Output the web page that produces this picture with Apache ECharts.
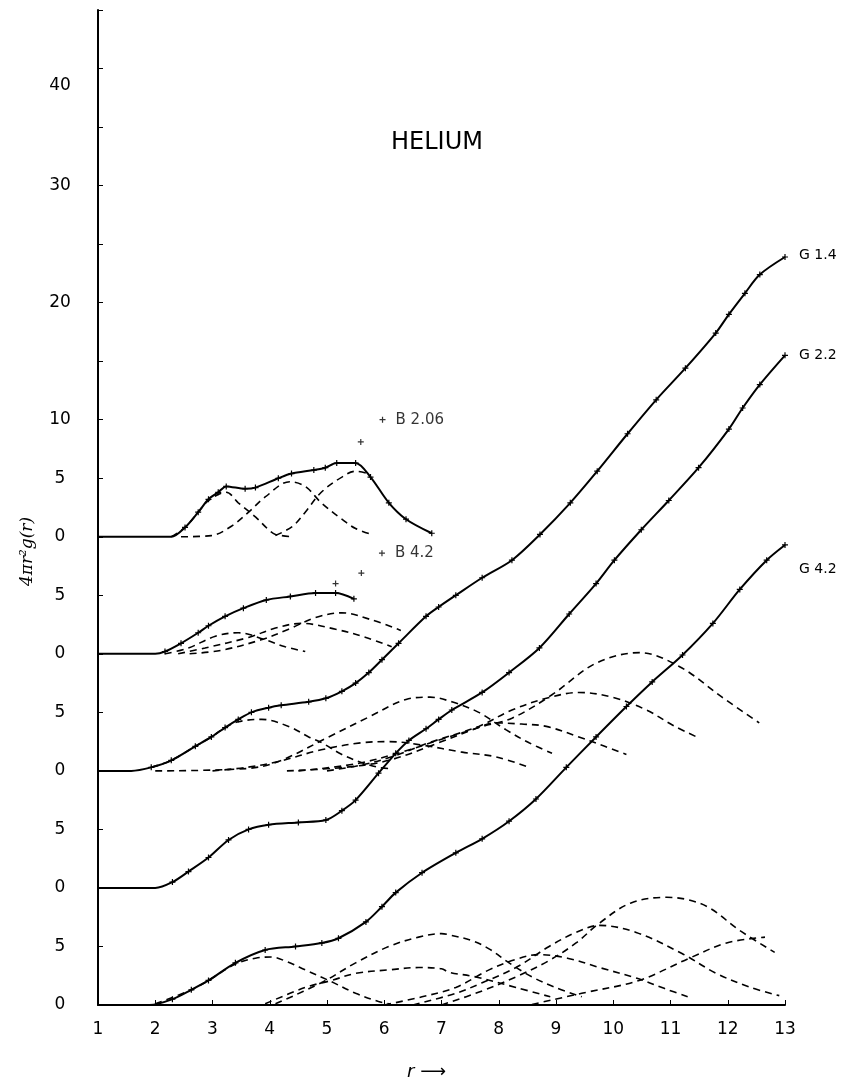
<!DOCTYPE html>
<html>
<head>
<meta charset="utf-8">
<script src="https://cdn.jsdelivr.net/npm/echarts@6/dist/echarts.min.js"></script>
<style>
  html, body { margin: 0; padding: 0; background: #fff; }
  #chart { width: 857px; height: 1088px; }
</style>
</head>
<body>
<div id="chart"></div>
<script>
// curves are stacked: B2.06 sits on 40, B4.2 on 30, G1.4 on 20, G2.2 on 10, G4.2 on 0
var yTickLabels = {0: '0', 5: '5', 10: '0', 15: '5', 20: '0', 25: '5', 30: '0', 35: '5',
    40: '0', 45: '5', 50: '10', 60: '20', 70: '30', 80: '{low|40}'};

// measured curves [r, value]
var solidB206 = [[1, 40], [2.28, 40], [2.52, 40.8], [2.75, 42.1], [2.93, 43.2], [3.1, 43.8], [3.24, 44.3],
    [3.57, 44.1], [3.75, 44.2], [4.15, 45.0], [4.38, 45.4], [4.77, 45.7], [4.97, 45.9], [5.17, 46.3],
    [5.5, 46.3], [5.76, 45.1], [6.08, 42.9], [6.38, 41.5], [6.83, 40.3]];
var solidB42 = [[1, 30], [2.0, 30], [2.17, 30.2], [2.45, 30.9], [2.75, 31.8], [2.93, 32.4], [3.22, 33.2],
    [3.54, 33.9], [3.94, 34.6], [4.36, 34.9], [4.8, 35.2], [5.15, 35.2], [5.47, 34.7]];
var solidG14 = [[1, 20], [1.58, 20], [1.93, 20.3], [2.28, 20.9], [2.7, 22.1], [2.98, 22.9], [3.22, 23.7],
    [3.45, 24.4], [3.68, 25.0], [3.98, 25.4], [4.2, 25.6], [4.68, 25.9], [4.98, 26.2], [5.26, 26.8],
    [5.5, 27.5], [5.73, 28.4], [5.96, 29.5], [6.25, 30.9], [6.73, 33.2], [6.95, 34.0], [7.25, 35.0],
    [7.71, 36.5], [8.23, 38.0], [8.72, 40.2], [9.25, 42.9], [9.72, 45.6], [10.25, 48.8], [10.75, 51.7],
    [11.26, 54.4], [11.79, 57.4], [12.02, 59.0], [12.3, 60.8], [12.56, 62.4], [13.0, 63.9]];
var solidG22 = [[1, 10], [2.0, 10], [2.3, 10.5], [2.58, 11.4], [2.93, 12.6], [3.28, 14.1], [3.63, 15.0],
    [3.98, 15.4], [4.5, 15.6], [4.98, 15.8], [5.26, 16.6], [5.5, 17.5], [5.9, 19.8], [6.2, 21.5],
    [6.43, 22.6], [6.73, 23.6], [6.95, 24.4], [7.18, 25.2], [7.71, 26.7], [8.18, 28.4], [8.71, 30.5],
    [9.23, 33.4], [9.7, 36.0], [10.02, 38.0], [10.49, 40.6], [10.97, 43.1], [11.49, 45.9], [12.02, 49.2],
    [12.26, 51.0], [12.56, 53.0], [13.0, 55.5]];
var solidG42 = [[1, 0], [1.9, 0], [2.3, 0.5], [2.63, 1.3], [2.93, 2.1], [3.4, 3.6], [3.92, 4.7], [4.45, 5.0],
    [4.91, 5.3], [5.2, 5.7], [5.68, 7.1], [5.96, 8.4], [6.2, 9.6], [6.66, 11.3], [7.25, 13.0], [7.71, 14.2],
    [8.18, 15.7], [8.65, 17.6], [9.18, 20.3], [9.7, 22.9], [10.23, 25.5], [10.68, 27.6], [11.21, 29.9],
    [11.74, 32.6], [12.21, 35.5], [12.68, 38.0], [13.0, 39.3]];

// isolated measured points
var dotsB206 = [[5.59, 48.1], [5.97, 50.0]];
var dotsB42 = [[5.15, 36.0], [5.6, 36.9], [5.96, 38.6]];

// dashed component peaks
var partsB206 = [
    [[2.28, 40], [2.52, 40.8], [2.75, 42.1], [2.93, 43.1], [3.24, 43.8], [3.45, 42.9], [3.75, 41.7], [3.98, 40.6], [4.1, 40.2], [4.42, 40.0]],
    [[2.45, 40], [2.98, 40.1], [3.33, 40.9], [3.63, 42.1], [3.92, 43.4], [4.35, 44.7], [4.62, 44.3], [4.9, 42.9], [5.26, 41.5], [5.5, 40.7], [5.78, 40.2]],
    [[4.1, 40.1], [4.4, 40.9], [4.62, 42.1], [4.9, 43.8], [5.26, 45.1], [5.5, 45.6], [5.72, 45.4]]
];
var partsB42 = [
    [[2.17, 30], [2.58, 30.5], [3.05, 31.5], [3.45, 31.8], [3.92, 31.2], [4.27, 30.6], [4.62, 30.2]],
    [[2.4, 30], [2.87, 30.5], [3.63, 31.4], [4.1, 32.2], [4.55, 32.6], [5.15, 32.1], [5.68, 31.4], [6.13, 30.6]],
    [[2.6, 30], [3.15, 30.3], [3.85, 31.2], [4.33, 32.1], [4.8, 33.1], [5.26, 33.5], [5.78, 32.9], [6.29, 32.0]]
];
var partsG14 = [
    [[1.93, 20.3], [2.28, 20.9], [2.7, 22.1], [2.98, 22.9], [3.22, 23.7], [3.45, 24.2], [3.86, 24.4], [4.33, 23.8], [4.68, 22.9], [4.91, 22.4], [5.26, 21.4], [5.61, 20.7], [5.9, 20.3], [6.1, 20.2]],
    [[2.0, 20], [3.6, 20.2], [4.15, 20.8], [5.03, 22.9], [5.73, 24.6], [6.38, 26.1], [6.8, 26.3], [7.18, 25.9], [7.65, 25.0], [8.13, 23.5], [8.53, 22.4], [8.93, 21.5]],
    [[3.0, 20], [3.6, 20.3], [4.15, 20.8], [4.9, 21.8], [5.6, 22.4], [6.08, 22.5], [6.66, 22.2], [7.36, 21.6], [7.95, 21.2], [8.53, 20.3]],
    [[4.5, 20], [5.5, 20.6], [6.3, 21.6], [7.0, 22.7], [7.53, 23.5], [7.95, 24.1], [8.4, 24.0], [8.83, 23.8], [9.4, 22.9], [9.85, 22.1], [10.23, 21.4]],
    [[5.0, 20], [5.6, 20.5], [6.13, 21.2], [6.78, 22.4], [7.65, 23.8], [8.23, 25.2], [8.83, 26.2], [9.4, 26.7], [9.98, 26.3], [10.58, 25.2], [11.04, 23.9], [11.5, 22.8]],
    [[4.3, 20], [5.3, 20.3], [6.08, 20.9], [6.95, 22.4], [7.65, 23.7], [8.23, 24.5], [8.93, 26.5], [9.7, 29.2], [10.46, 30.1], [11.16, 28.9], [11.9, 26.3], [12.55, 24.1]]
];
var partsG42 = [
    [[2.0, 0.1], [2.63, 1.3], [2.93, 2.1], [3.4, 3.5], [3.75, 4.0], [4.03, 4.1], [4.3, 3.7], [4.62, 3.0], [5.03, 2.1], [5.5, 1.0], [5.9, 0.3], [6.1, 0.1]],
    [[3.92, 0.1], [4.62, 1.5], [5.08, 2.1], [5.5, 2.7], [6.08, 3.0], [6.6, 3.2], [7.0, 3.1], [7.13, 2.8], [7.6, 2.4], [8.3, 1.5], [8.9, 0.7]],
    [[4.1, 0.1], [4.9, 1.9], [5.5, 3.6], [6.08, 5.0], [6.6, 5.8], [7.0, 6.1], [7.13, 6.0], [7.53, 5.5], [7.83, 4.8], [8.18, 3.6], [8.58, 2.4], [8.99, 1.5], [9.45, 0.7]],
    [[6.0, 0], [6.66, 0.7], [7.25, 1.5], [7.83, 3.0], [8.3, 3.9], [8.7, 4.3], [9.2, 4.0], [9.76, 3.2], [10.4, 2.3], [10.9, 1.4], [11.3, 0.7]],
    [[6.5, 0], [7.25, 1.0], [7.71, 1.9], [8.3, 3.2], [8.88, 5.0], [9.35, 6.2], [9.76, 6.8], [10.4, 6.2], [11.2, 4.4], [11.8, 2.7], [12.4, 1.5], [12.9, 0.8]],
    [[7.0, 0], [7.71, 1.2], [8.3, 2.4], [8.88, 3.8], [9.35, 5.3], [9.76, 7.0], [10.3, 8.7], [10.93, 9.2], [11.3, 9.0], [11.68, 8.3], [12.2, 6.4], [12.82, 4.5]],
    [[8.58, 0.05], [9.45, 1.0], [10.45, 2.1], [11.33, 4.0], [11.98, 5.3], [12.65, 5.8]]
];

var PLUS = 'path://M4,0H6V4H10V6H6V10H4V6H0V4H4Z';
var FONT = '"DejaVu Sans", sans-serif';

function solidSeries(name, data, endText, offset) {
    var s = {
        name: name,
        type: 'line',
        data: data.map(function (p, i) {
            return i < 2 ? {value: p, symbol: 'none'} : p;
        }),
        smooth: 0.3,
        symbol: PLUS,
        symbolSize: 6,
        showAllSymbol: true,
        lineStyle: {color: '#000', width: 2},
        itemStyle: {color: '#000'},
        z: 3
    };
    if (endText) {
        s.endLabel = {
            show: true,
            formatter: endText,
            distance: 14,
            offset: offset || [0, 0],
            color: '#000',
            fontSize: 14,
            fontFamily: FONT
        };
    }
    return s;
}

function dashedSeries(data) {
    return {
        type: 'line',
        data: data,
        smooth: 0.35,
        showSymbol: false,
        lineStyle: {color: '#000', width: 1.6, type: [7, 5]},
        z: 2
    };
}

function dotSeries(data, text) {
    return {
        type: 'scatter',
        symbol: PLUS,
        symbolSize: 6,
        itemStyle: {color: '#000'},
        data: data.map(function (p, i) {
            if (i === data.length - 1) {
                return {value: p, label: {show: true, formatter: text, position: 'right', distance: 10,
                    color: '#000', fontSize: 15, fontFamily: FONT}};
            }
            return p;
        })
    };
}

var series = [
    solidSeries('B 2.06', solidB206),
    solidSeries('B 4.2', solidB42),
    solidSeries('G 1.4', solidG14, 'G 1.4', [0, -2]),
    solidSeries('G 2.2', solidG22, 'G 2.2', [0, 0]),
    solidSeries('G 4.2', solidG42, 'G 4.2', [0, 24]),
    dotSeries(dotsB206, 'B 2.06'),
    dotSeries(dotsB42, 'B 4.2')
];
[partsB206, partsB42, partsG14, partsG42].forEach(function (group) {
    group.forEach(function (d) {
        series.push(dashedSeries(d));
    });
});

var chart = echarts.init(document.getElementById('chart'));
chart.setOption({
    animation: false,
    backgroundColor: '#fff',
    title: {
        text: 'HELIUM',
        left: 386,
        top: 126,
        textStyle: {fontSize: 24, fontWeight: 'normal', color: '#000', fontFamily: FONT}
    },
    grid: {left: 98, right: 72, top: 10, bottom: 83},
    xAxis: {
        type: 'value',
        min: 1,
        max: 13,
        interval: 1,
        name: 'r \u27F6',
        nameLocation: 'middle',
        nameGap: 58,
        nameTextStyle: {fontSize: 18, color: '#000', fontStyle: 'italic', fontFamily: FONT, padding: [0, 30, 0, 0]},
        axisLine: {lineStyle: {color: '#000', width: 2}},
        axisTick: {inside: true, length: 5, lineStyle: {color: '#000'}},
        axisLabel: {fontSize: 17, color: '#000', margin: 16, fontFamily: FONT},
        splitLine: {show: false}
    },
    yAxis: {
        type: 'value',
        min: 0,
        max: 85,
        interval: 5,
        name: '4\u03C0r\u00B2g(r)',
        nameLocation: 'middle',
        nameGap: 62,
        nameRotate: 90,
        nameTextStyle: {fontSize: 17, color: '#000', fontStyle: 'italic', fontFamily: '"DejaVu Serif", serif',
            padding: [0, 88, 0, 0]},
        axisLine: {lineStyle: {color: '#000', width: 2}},
        axisTick: {inside: true, length: 5, lineStyle: {color: '#000'}},
        axisLabel: {
            fontSize: 17,
            color: '#000',
            margin: 38,
            align: 'center',
            fontFamily: FONT,
            formatter: function (v) {
                return yTickLabels[v] !== undefined ? yTickLabels[v] : '';
            },
            rich: {
                low: {fontSize: 17, color: '#000', fontFamily: FONT, padding: [34, 0, 0, 0]}
            }
        },
        splitLine: {show: false}
    },
    series: series
});
</script>
</body>
</html>
